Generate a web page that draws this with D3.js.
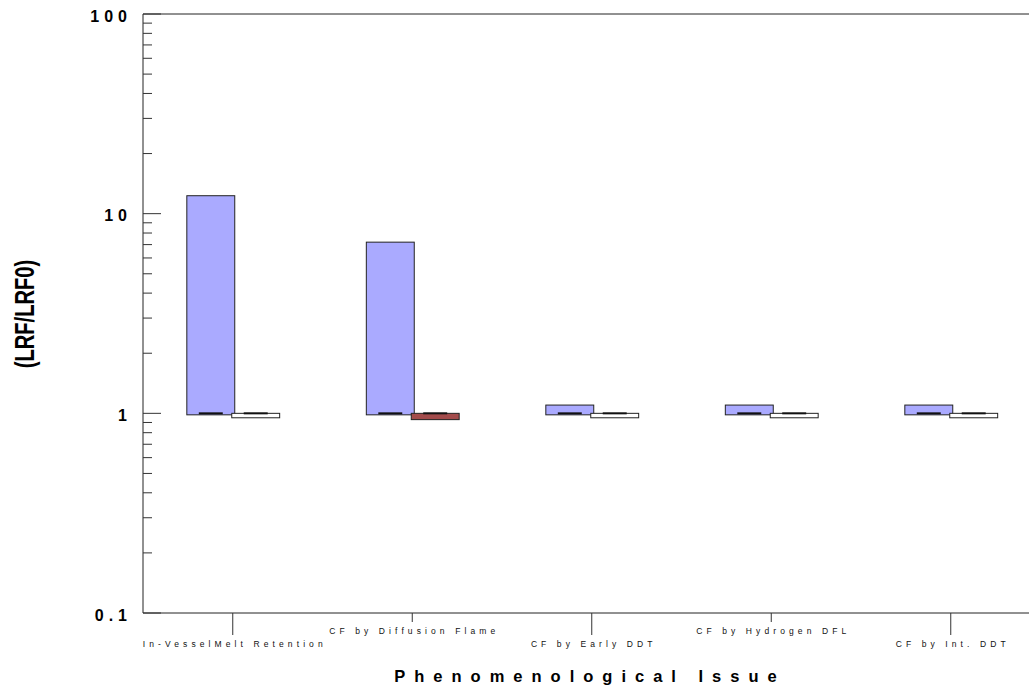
<!DOCTYPE html>
<html>
<head>
<meta charset="utf-8">
<script src="https://cdn.jsdelivr.net/npm/d3@7"></script>
<style>
  body { margin: 0; background: #fff; }
  svg { display: block; font-family: Arial, "Liberation Sans", sans-serif; }
</style>
</head>
<body>
<div id="chart"></div>
<script>
// data
const categories = [
  "In-VesselMelt Retention",
  "CF by Diffusion Flame",
  "CF by Early DDT",
  "CF by Hydrogen DFL",
  "CF by Int. DDT",
];
const upperValues = [12.3, 7.2, 1.1, 1.1, 1.1];
const lowerValues = [0.95, 0.93, 0.95, 0.95, 0.95];
const lowerColors = ["#ffffff", "#a34b4b", "#ffffff", "#ffffff", "#ffffff"];
const baseValue = 1;
const yTicks = [0.1, 1, 10, 100];
const yTickLabels = ["0.1", "1", "10", "100"];

const width = 1029, height = 688;
const margin = { top: 14, left: 143, bottom: 75 };

const svg = d3.select("#chart").append("svg")
  .attr("width", width).attr("height", height);

// scales
const x = d3.scaleBand()
  .domain(categories)
  .range([margin.left, 1040.5])
  .padding(0);
const y = d3.scaleLog()
  .domain([0.1, 100])
  .range([height - margin.bottom, margin.top]);

const bw = x.bandwidth() * 0.267;
const center = (d) => x(d) + x.bandwidth() / 2;

// upper bars (blue)
svg.selectAll(".upper")
  .data(categories)
  .enter()
  .append("rect")
  .attr("x", (d) => center(d) - bw + 2)
  .attr("y", (d, i) => y(upperValues[i]))
  .attr("width", bw)
  .attr("height", (d, i) => y(baseValue) - y(upperValues[i]) + 1.5)
  .attr("fill", "#aaaaff")
  .attr("stroke", "#222")
  .attr("stroke-width", 1);

// lower bars
svg.selectAll(".lower")
  .data(categories)
  .enter()
  .append("rect")
  .attr("x", (d) => center(d) - 1)
  .attr("y", y(baseValue))
  .attr("width", bw)
  .attr("height", (d, i) => y(lowerValues[i]) - y(baseValue))
  .attr("fill", (d, i) => lowerColors[i])
  .attr("stroke", "#222")
  .attr("stroke-width", 1);

// base markers inside each bar
const markerOffsets = [-bw / 2 + 2, bw / 2 - 1];
categories.forEach((c) => {
  markerOffsets.forEach((o) => {
    svg.append("line")
      .attr("x1", center(c) + o - bw / 4)
      .attr("x2", center(c) + o + bw / 4)
      .attr("y1", y(baseValue))
      .attr("y2", y(baseValue))
      .attr("stroke", "#111")
      .attr("stroke-width", 2);
  });
});

// axis lines
const x0 = margin.left, yBot = y(0.1), yTop = y(100);
svg.append("line").attr("x1", x0).attr("x2", width).attr("y1", yTop).attr("y2", yTop)
  .attr("stroke", "#222");
svg.append("line").attr("x1", x0).attr("x2", width).attr("y1", yBot).attr("y2", yBot)
  .attr("stroke", "#222");
svg.append("line").attr("x1", x0).attr("x2", x0).attr("y1", yTop).attr("y2", yBot)
  .attr("stroke", "#222");

// y ticks (inside)
const allTicks = [];
[0.1, 1, 10].forEach((dec) => {
  for (let k = 1; k < 10; k++) allTicks.push({ v: dec * k, major: k === 1 });
});
allTicks.push({ v: 100, major: true });
svg.selectAll(".ytick")
  .data(allTicks)
  .enter()
  .append("line")
  .attr("x1", x0)
  .attr("x2", (d) => x0 + (d.major ? 18 : 9))
  .attr("y1", (d) => y(d.v))
  .attr("y2", (d) => y(d.v))
  .attr("stroke", "#333");

svg.selectAll(".ylabel")
  .data(yTicks)
  .enter()
  .append("text")
  .attr("x", 127 + 5)
  .attr("y", (d) => y(d) + 2)
  .attr("dy", "0.36em")
  .attr("text-anchor", "end")
  .attr("font-size", 16)
  .attr("font-weight", "bold")
  .attr("letter-spacing", "5px")
  .text((d, i) => yTickLabels[i]);

// x ticks, alternating lengths
svg.selectAll(".xtick")
  .data(categories)
  .enter()
  .append("line")
  .attr("x1", (d) => center(d))
  .attr("x2", (d) => center(d))
  .attr("y1", yBot)
  .attr("y2", (d, i) => yBot + (i % 2 === 0 ? 22 : 9))
  .attr("stroke", "#333");

svg.selectAll(".xlabel")
  .data(categories)
  .enter()
  .append("text")
  .attr("x", (d) => center(d) + 2)
  .attr("y", (d, i) => (i % 2 === 0 ? 647 : 634))
  .attr("text-anchor", "middle")
  .attr("font-size", 8.5)
  .attr("letter-spacing", "4.1px")
  .attr("fill", "#111")
  .text((d) => d);

// axis titles
svg.append("text")
  .attr("x", 590)
  .attr("y", 682)
  .attr("text-anchor", "middle")
  .attr("font-size", 16.5)
  .attr("font-weight", "bold")
  .attr("letter-spacing", "9px")
  .text("Phenomenological Issue");

svg.append("text")
  .attr("transform", "translate(34,314) rotate(-90) scale(0.72,1)")
  .attr("text-anchor", "middle")
  .attr("font-size", 28)
  .attr("font-weight", "bold")
  .text("(LRF/LRF0)");
</script>
</body>
</html>
